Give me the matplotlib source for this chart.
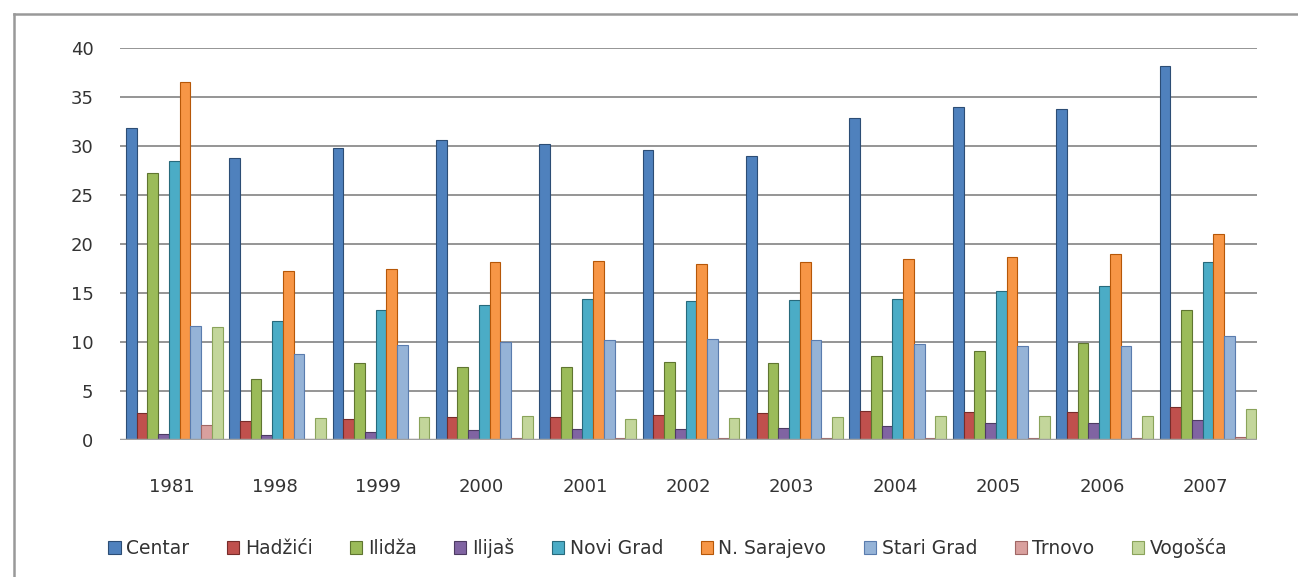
import matplotlib
matplotlib.use("Agg")
import matplotlib.pyplot as plt
import numpy as np
from matplotlib.lines import Line2D

years = ["1981", "1998", "1999", "2000", "2001", "2002", "2003", "2004", "2005", "2006", "2007"]
series_names = ["Centar", "Hadžići", "Ilidža", "Ilijaš", "Novi Grad", "N. Sarajevo", "Stari Grad", "Trnovo", "Vogošća"]

centar     = [31.8, 28.8, 29.8, 30.6, 30.2, 29.6, 29.0, 32.9, 34.0, 33.8, 38.2]
hadzici    = [2.8, 1.9, 2.1, 2.3, 2.3, 2.6, 2.8, 3.0, 2.9, 2.9, 3.4]
ilidza     = [27.2, 6.2, 7.9, 7.4, 7.4, 8.0, 7.9, 8.6, 9.1, 9.9, 13.3]
ilijas     = [0.6, 0.5, 0.8, 1.0, 1.1, 1.1, 1.2, 1.4, 1.7, 1.7, 2.0]
novi_grad  = [28.5, 12.1, 13.3, 13.8, 14.4, 14.2, 14.3, 14.4, 15.2, 15.7, 18.2]
n_sarajevo = [36.5, 17.2, 17.4, 18.2, 18.3, 18.0, 18.2, 18.5, 18.7, 19.0, 21.0]
stari_grad = [11.6, 8.8, 9.7, 10.0, 10.2, 10.3, 10.2, 9.8, 9.6, 9.6, 10.6]
trnovo     = [1.5, 0.1, 0.1, 0.2, 0.2, 0.2, 0.2, 0.2, 0.2, 0.2, 0.3]
vogosca    = [11.5, 2.2, 2.3, 2.4, 2.1, 2.2, 2.3, 2.4, 2.5, 2.5, 3.2]

data = [centar, hadzici, ilidza, ilijas, novi_grad, n_sarajevo, stari_grad, trnovo, vogosca]
colors = ["#4F81BD", "#C0504D", "#9BBB59", "#8064A2", "#4BACC6",
          "#F79646", "#95B3D7", "#D9A09E", "#C3D69B"]
edges = ["#2C4D75", "#772C2A", "#5F7530", "#4D3B62", "#276A7C",
         "#B65708", "#5A7CAE", "#A06664", "#8AA35A"]

fig = plt.figure(figsize=(12.98, 5.77), dpi=100)
ax = fig.add_axes([0.0924, 0.2374, 0.876, 0.6794])

n = len(series_names)
x = np.arange(len(years))
w = 0.104
for i, (vals, c, ec) in enumerate(zip(data, colors, edges)):
    offs = (i - (n - 1) / 2) * w + 0.025
    ax.bar(x + offs, vals, width=w, color=c, edgecolor=ec, linewidth=0.8,
           label=series_names[i], zorder=3)

ax.set_xlim(-0.5, len(years) - 0.5)
ax.set_ylim(0, 40)
ax.set_yticks(np.arange(0, 41, 5))
ax.set_xticks(x)
ax.set_xticklabels(years)
ax.yaxis.grid(True, color="#8C8C8C", linewidth=1.3, zorder=0)
ax.set_axisbelow(True)
for s in ax.spines.values():
    s.set_visible(False)
ax.axhline(0, color="#A0A0A0", linewidth=2.5, zorder=4)
ax.tick_params(axis="both", length=0, labelsize=13, colors="#333333")
ax.tick_params(axis="y", pad=19)
ax.tick_params(axis="x", pad=27)
for lab in ax.get_xticklabels() + ax.get_yticklabels():
    lab.set_family("DejaVu Sans")

leg = fig.legend(loc="center", bbox_to_anchor=(0.5146, 0.050), ncol=9, frameon=False,
                 handlelength=0.65, handleheight=0.65, handletextpad=0.3,
                 columnspacing=2.0, fontsize=13.5)
for t in leg.get_texts():
    t.set_color("#333333")

# outer chart frame (left and top edges visible)
fig.add_artist(Line2D([14 / 1298, 14 / 1298], [0, 1 - 14 / 577], transform=fig.transFigure,
                      color="#999999", linewidth=1.8))
fig.add_artist(Line2D([14 / 1298, 1], [1 - 14 / 577, 1 - 14 / 577], transform=fig.transFigure,
                      color="#999999", linewidth=1.8))

fig.savefig("out.png", dpi=100)
